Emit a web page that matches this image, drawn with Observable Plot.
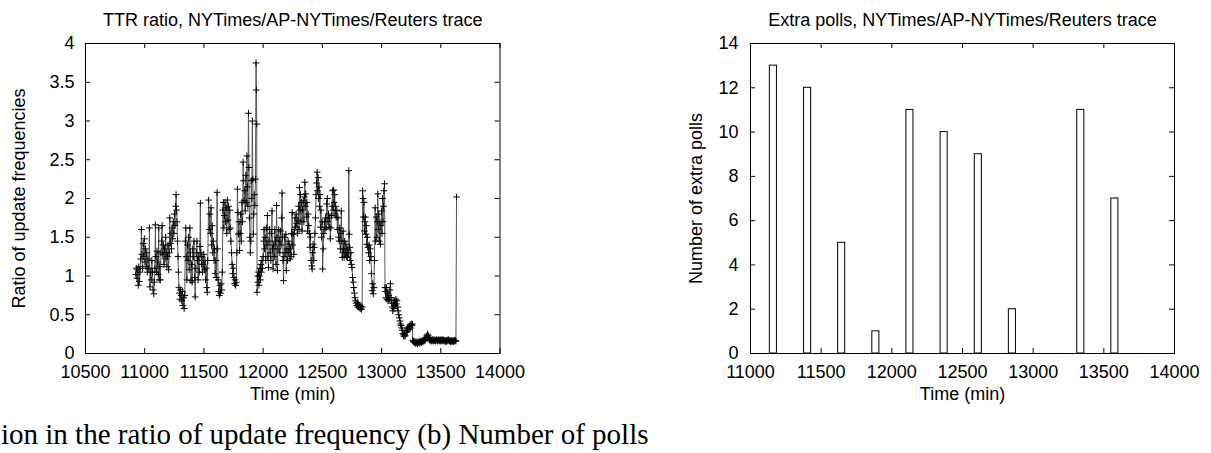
<!DOCTYPE html>
<html><head><meta charset="utf-8">
<script src="https://cdn.jsdelivr.net/npm/d3@7"></script>
<script src="https://cdn.jsdelivr.net/npm/@observablehq/plot@0.6"></script>
<style>
body{margin:0;background:#fff;width:1211px;height:453px;position:relative;overflow:hidden;font-family:"Liberation Sans",Arial,sans-serif;}
#a{position:absolute;left:0;top:0;}
#b{position:absolute;left:620px;top:0;}
#cap{position:absolute;left:1px;top:420px;font-family:"Liberation Serif","Times New Roman",serif;font-size:29px;line-height:29px;white-space:nowrap;color:#000;}
</style></head><body>
<div id="a"></div><div id="b"></div><div id="cap"></div>
<script>
// ---- texts ----
const leftTitle = "TTR ratio, NYTimes/AP-NYTimes/Reuters trace";
const rightTitle = "Extra polls, NYTimes/AP-NYTimes/Reuters trace";
const xLabel = "Time (min)";
const leftYLabel = "Ratio of update frequencies";
const rightYLabel = "Number of extra polls";
const captionText = "ion in the ratio of update frequency (b) Number of polls";

// ---- tick values ----
const leftXTicks = [10500, 11000, 11500, 12000, 12500, 13000, 13500, 14000];
const leftYTicks = [0, 0.5, 1, 1.5, 2, 2.5, 3, 3.5, 4];
const rightXTicks = [11000, 11500, 12000, 12500, 13000, 13500, 14000];
const rightYTicks = [0, 2, 4, 6, 8, 10, 12, 14];

// ---- extra polls (right) ----
const pollTimes = [11162, 11404, 11645, 11887, 12128, 12370, 12612, 12853, 13095, 13337, 13578];
const pollCounts = [13, 12, 5, 1, 11, 10, 9, 2, 0, 11, 7];

// ---- TTR ratio trace (left): [time (min), ratio] ----
const ttrSeries = [
[10925,1.02],[10930,1.10],[10935,0.97],[10940,1.08],[10945,0.88],[10950,1.12],[10955,0.93],[10960,1.05],
[10966,1.22],[10972,1.60],[10976,1.28],[10982,1.10],[10987,1.42],[10992,1.25],[10997,1.48],[11002,1.18],
[11007,1.35],[11012,1.12],[11017,1.30],[11022,1.05],[11028,1.22],[11034,1.10],[11040,1.62],[11044,0.86],
[11049,1.05],[11054,0.95],[11060,1.20],[11066,1.05],[11071,0.82],[11076,0.77],[11081,0.92],[11086,1.10],
[11090,1.66],[11094,1.25],[11099,1.05],[11104,1.32],[11109,1.18],[11114,1.02],[11118,1.62],[11122,0.95],
[11127,1.12],[11132,0.95],[11137,1.30],[11142,1.45],[11147,1.65],[11152,1.28],[11157,1.40],[11162,1.15],
[11167,1.35],[11172,1.22],[11177,1.50],[11182,1.30],[11187,1.12],[11192,1.25],[11197,1.40],[11202,1.08],
[11207,1.30],[11211,1.75],[11216,1.42],[11221,1.55],[11226,1.35],[11231,1.62],[11236,1.48],[11241,1.70],
[11246,1.55],[11251,1.80],[11256,1.65],[11261,1.90],[11265,2.05],[11269,1.85],[11273,1.70],[11277,1.45],
[11281,1.25],[11285,1.05],[11289,0.85],[11293,0.78],[11298,0.70],[11303,0.82],[11308,0.75],[11313,0.68],
[11318,0.80],[11323,0.62],[11328,0.72],[11333,0.58],[11338,0.75],[11343,1.45],[11347,1.62],[11351,1.25],
[11356,0.95],[11361,1.40],[11366,1.20],[11371,1.50],[11376,1.08],[11381,1.62],[11386,1.30],[11391,0.94],
[11396,1.15],[11401,0.92],[11406,1.35],[11411,1.25],[11416,1.45],[11421,0.98],[11426,0.73],[11431,1.10],
[11436,1.30],[11441,1.45],[11446,1.20],[11451,0.95],[11456,1.25],[11461,1.05],[11466,1.38],[11470,1.94],
[11474,1.30],[11479,1.15],[11484,1.25],[11489,1.05],[11494,1.15],[11499,1.28],[11504,1.08],[11509,1.20],
[11514,0.95],[11519,1.10],[11524,0.85],[11528,0.79],[11532,1.20],[11540,1.98],[11545,1.60],[11550,1.80],
[11555,1.55],[11560,1.88],[11565,1.40],[11570,1.65],[11575,1.30],[11580,1.45],[11585,1.20],[11590,1.35],
[11595,1.03],[11600,1.20],[11605,0.98],[11611,2.08],[11615,1.35],[11620,0.95],[11625,0.80],[11630,0.75],
[11635,0.88],[11640,0.78],[11645,0.90],[11650,0.82],[11655,1.05],[11660,1.85],[11664,1.95],[11668,1.62],
[11673,1.78],[11678,1.95],[11683,1.70],[11688,1.88],[11693,1.55],[11698,1.98],[11703,1.72],[11708,1.90],
[11713,1.60],[11718,1.85],[11723,1.62],[11728,1.45],[11733,1.30],[11738,1.15],[11743,1.03],[11748,1.10],
[11753,0.98],[11758,0.90],[11763,0.95],[11768,0.88],[11773,0.92],[11778,1.30],[11783,2.12],[11787,1.82],
[11791,1.54],[11796,1.70],[11801,1.33],[11806,1.55],[11811,1.80],[11816,1.45],[11821,1.95],[11826,1.70],
[11831,2.47],[11835,2.23],[11839,1.97],[11844,2.10],[11849,1.84],[11854,2.30],[11858,1.95],[11863,2.55],
[11867,2.15],[11871,1.90],[11876,3.10],[11880,2.40],[11884,1.75],[11888,1.50],[11892,1.30],[11896,1.45],
[11900,2.23],[11904,2.00],[11909,3.00],[11913,2.25],[11917,1.54],[11921,1.80],[11926,2.05],[11930,1.91],
[11935,2.25],[11940,3.75],[11943,3.40],[11946,2.96],[11949,0.79],[11953,1.00],[11957,0.92],[11961,1.05],
[11965,0.88],[11969,1.00],[11973,1.10],[11977,0.95],[11981,1.15],[11985,1.05],[11990,1.20],[11995,1.10],
[12000,1.25],[12004,1.45],[12008,1.60],[12012,1.35],[12017,1.50],[12022,1.20],[12027,1.62],[12032,1.40],
[12036,1.78],[12040,1.25],[12045,1.11],[12050,1.45],[12055,1.60],[12060,1.30],[12065,1.20],[12070,1.55],
[12075,1.84],[12079,1.35],[12084,1.09],[12089,1.40],[12094,1.25],[12099,1.60],[12104,1.45],[12109,1.15],
[12113,1.91],[12117,1.50],[12121,1.07],[12126,1.35],[12131,1.60],[12136,1.45],[12141,1.30],[12146,1.58],
[12151,1.40],[12156,1.75],[12160,2.07],[12164,1.50],[12168,1.20],[12172,0.94],[12176,1.25],[12181,1.50],
[12186,1.30],[12191,1.54],[12196,1.07],[12201,1.35],[12206,1.20],[12211,1.45],[12216,1.30],[12221,1.41],
[12226,1.22],[12231,1.35],[12236,1.25],[12241,1.55],[12245,1.82],[12249,1.40],[12254,1.54],[12259,1.28],
[12264,1.60],[12269,1.75],[12274,1.63],[12279,1.80],[12284,1.68],[12289,1.55],[12294,1.72],[12299,1.90],
[12303,1.60],[12307,2.14],[12311,1.85],[12315,2.05],[12319,1.70],[12324,1.95],[12329,1.58],[12334,1.85],
[12339,1.97],[12344,1.70],[12348,2.02],[12352,2.21],[12356,1.90],[12360,2.06],[12365,1.76],[12370,1.95],
[12375,1.58],[12380,1.80],[12385,1.65],[12390,1.55],[12395,1.37],[12400,1.50],[12405,1.20],[12410,1.13],
[12414,1.09],[12418,1.30],[12422,1.41],[12427,1.20],[12432,1.37],[12437,1.55],[12442,1.75],[12447,2.05],
[12451,2.20],[12456,2.34],[12460,2.10],[12464,2.27],[12468,2.00],[12472,2.15],[12476,1.90],[12480,2.05],
[12484,1.63],[12488,1.85],[12493,1.50],[12498,1.70],[12502,1.09],[12507,1.35],[12512,1.55],[12517,1.70],
[12522,1.60],[12527,1.75],[12532,1.62],[12537,1.93],[12542,2.00],[12547,1.70],[12552,1.80],[12557,1.63],
[12562,1.75],[12567,1.48],[12572,1.62],[12577,1.78],[12582,1.90],[12587,2.10],[12591,1.85],[12596,2.11],
[12600,1.95],[12604,2.05],[12608,1.80],[12612,1.90],[12617,1.76],[12622,1.85],[12627,1.60],[12632,1.75],
[12637,1.50],[12642,1.45],[12647,1.62],[12652,1.35],[12656,1.55],[12660,1.84],[12664,1.45],[12668,1.24],
[12672,1.30],[12676,1.58],[12680,1.35],[12684,1.24],[12689,1.45],[12694,1.30],[12699,1.41],[12704,1.25],
[12709,1.35],[12714,1.24],[12719,1.30],[12723,2.36],[12727,1.54],[12731,1.37],[12735,1.20],[12740,1.30],
[12745,1.15],[12750,1.11],[12755,0.98],[12760,0.92],[12765,0.85],[12770,0.78],[12775,0.72],[12780,0.68],
[12785,0.65],[12790,0.62],[12795,0.66],[12800,0.60],[12805,0.63],[12810,0.59],[12815,0.62],[12820,0.58],
[12825,0.61],[12830,0.57],[12836,0.60],[12840,2.10],[12843,2.00],[12847,1.76],[12851,1.95],[12855,1.58],
[12859,1.70],[12863,1.76],[12867,1.54],[12871,1.65],[12875,1.41],[12880,1.50],[12885,1.37],[12890,1.30],
[12895,1.40],[12900,1.20],[12905,1.35],[12910,1.25],[12915,1.03],[12920,0.81],[12925,0.90],[12930,0.77],
[12935,0.85],[12940,1.20],[12946,1.88],[12950,1.45],[12955,1.76],[12960,1.50],[12964,1.70],[12968,2.06],
[12972,1.60],[12976,1.80],[12980,1.45],[12985,1.70],[12990,1.41],[12995,1.65],[13000,1.84],[13004,1.55],
[13008,2.00],[13012,1.70],[13016,1.90],[13020,2.10],[13025,2.19],[13029,0.85],[13033,0.80],[13037,0.72],
[13041,0.85],[13045,0.70],[13050,0.78],[13055,0.68],[13060,0.75],[13065,0.70],[13070,0.82],[13075,0.90],
[13080,0.72],[13085,0.65],[13090,0.60],[13095,0.55],[13100,0.65],[13105,0.58],[13110,0.68],[13115,0.62],
[13120,0.70],[13125,0.64],[13130,0.68],[13135,0.60],[13140,0.55],[13145,0.50],[13150,0.46],[13155,0.42],
[13160,0.38],[13165,0.36],[13170,0.33],[13175,0.30],[13180,0.26],[13185,0.24],[13190,0.22],[13195,0.25],
[13200,0.23],[13205,0.27],[13210,0.30],[13215,0.28],[13220,0.32],[13225,0.34],[13230,0.31],[13235,0.35],
[13240,0.37],[13245,0.33],[13250,0.38],[13255,0.36],[13260,0.38],[13263,0.17],[13268,0.15],[13273,0.16],
[13278,0.14],[13283,0.15],[13288,0.13],[13293,0.15],[13298,0.14],[13303,0.12],[13308,0.15],[13313,0.14],
[13318,0.16],[13323,0.13],[13328,0.15],[13333,0.16],[13338,0.14],[13343,0.17],[13348,0.15],[13353,0.17],
[13358,0.16],[13363,0.18],[13368,0.17],[13373,0.19],[13378,0.21],[13383,0.23],[13388,0.25],[13393,0.23],
[13398,0.20],[13403,0.18],[13408,0.17],[13413,0.18],[13418,0.16],[13423,0.17],[13428,0.18],[13433,0.17],
[13438,0.16],[13443,0.18],[13448,0.17],[13453,0.16],[13458,0.17],[13463,0.18],[13468,0.17],[13473,0.16],
[13478,0.17],[13483,0.18],[13488,0.17],[13493,0.16],[13498,0.17],[13503,0.18],[13508,0.16],[13513,0.17],
[13518,0.18],[13523,0.17],[13528,0.16],[13533,0.17],[13538,0.16],[13543,0.15],[13548,0.17],[13553,0.16],
[13558,0.17],[13563,0.18],[13568,0.17],[13573,0.16],[13578,0.17],[13583,0.15],[13588,0.16],[13593,0.17],
[13598,0.16],[13603,0.15],[13608,0.16],[13613,0.17],[13618,0.16],[13623,0.17],[13628,0.16],[13633,2.02]
];

const ttr = ttrSeries.map(([t, v]) => ({t, v}));
const polls = pollTimes.map((t, i) => ({t, v: pollCounts[i]}));

const FONT = '"Liberation Sans", Arial, Helvetica, sans-serif';
const H = 410, MT = 43, MB = 57;
const innerH = H - MT - MB;
const TL = 5; // inward tick length
const fmt = d => String(d);

function inwardTicks(xt, yt, innerW) {
  return [
    Plot.tickX(xt, {x: d => d, insetTop: innerH - TL, stroke: "black"}),
    Plot.tickX(xt, {x: d => d, insetBottom: innerH - TL, stroke: "black"}),
    Plot.tickY(yt, {y: d => d, insetRight: innerW - TL, stroke: "black"}),
    Plot.tickY(yt, {y: d => d, insetLeft: innerW - TL, stroke: "black"})
  ];
}

// ---- left chart ----
{
  const W = 540, ML = 85, MR = 40.5;
  const innerW = W - ML - MR;
  const chart = Plot.plot({
    width: W, height: H, marginLeft: ML, marginRight: MR, marginTop: MT, marginBottom: MB,
    style: {fontFamily: FONT, fontSize: "18px", color: "black", background: "white", overflow: "visible"},
    x: {domain: [10500, 14000]},
    y: {domain: [0, 4]},
    marks: [
      ...inwardTicks(leftXTicks, leftYTicks, innerW),
      Plot.line(ttr, {x: "t", y: "v", stroke: "#555", strokeWidth: 1}),
      Plot.dot(ttr, {x: "t", y: "v", symbol: "plus", r: 2.3, stroke: "black", strokeWidth: 1}),
      Plot.frame({stroke: "black"}),
      Plot.axisX(leftXTicks, {tickSize: 0, tickPadding: 12, label: null, tickFormat: fmt}),
      Plot.axisY(leftYTicks, {tickSize: 0, tickPadding: 11, label: null, tickFormat: fmt}),
      Plot.text([leftTitle], {text: d => d, frameAnchor: "top", dy: -30}),
      Plot.text([xLabel], {text: d => d, frameAnchor: "bottom", dy: 46}),
      Plot.text([leftYLabel], {text: d => d, frameAnchor: "left", textAnchor: "middle", rotate: -90, dx: -66})
    ]
  });
  document.getElementById("a").appendChild(chart);
}

// ---- right chart ----
{
  const W = 591, ML = 130, MR = 37;
  const innerW = W - ML - MR;
  const chart = Plot.plot({
    width: W, height: H, marginLeft: ML, marginRight: MR, marginTop: MT, marginBottom: MB,
    style: {fontFamily: FONT, fontSize: "18px", color: "black", background: "white", overflow: "visible"},
    x: {domain: [11000, 14000]},
    y: {domain: [0, 14]},
    marks: [
      ...inwardTicks(rightXTicks, rightYTicks, innerW),
      Plot.rectY(polls, {x1: d => d.t - 25, x2: d => d.t + 25, y: "v", fill: "white", stroke: "black", strokeWidth: 1}),
      Plot.frame({stroke: "black"}),
      Plot.axisX(rightXTicks, {tickSize: 0, tickPadding: 12, label: null, tickFormat: fmt}),
      Plot.axisY(rightYTicks, {tickSize: 0, tickPadding: 12, label: null, tickFormat: fmt}),
      Plot.text([rightTitle], {text: d => d, frameAnchor: "top", dy: -30}),
      Plot.text([xLabel], {text: d => d, frameAnchor: "bottom", dy: 46}),
      Plot.text([rightYLabel], {text: d => d, frameAnchor: "left", textAnchor: "middle", rotate: -90, dx: -54})
    ]
  });
  document.getElementById("b").appendChild(chart);
}

document.getElementById("cap").textContent = captionText;
</script>
</body></html>
